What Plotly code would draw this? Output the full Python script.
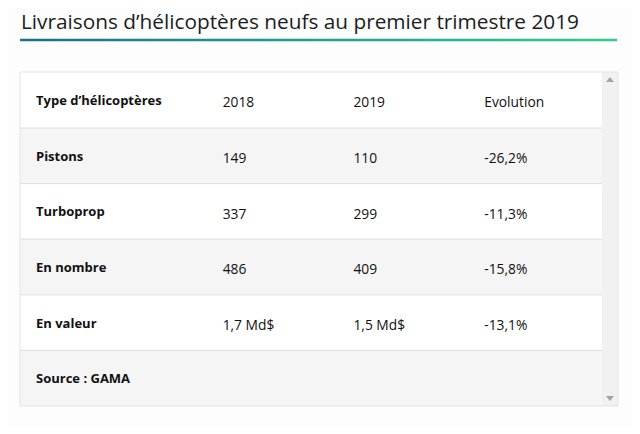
import plotly.graph_objects as go

# données du tableau
titre = "Livraisons d’hélicoptères neufs au premier trimestre 2019"
entetes = ["Type d’hélicoptères", "2018", "2019", "Evolution"]
types = ["Pistons", "Turboprop", "En nombre", "En valeur", "Source : GAMA"]
val_2018 = ["149", "337", "486", "1,7 Md$", ""]
val_2019 = ["110", "299", "409", "1,5 Md$", ""]
evolution = ["-26,2%", "-11,3%", "-15,8%", "-13,1%", ""]

# la page a une marge de 8px : la figure fait 624x418
OFF = 8
W, H = 640 - 2 * OFF, 434 - 2 * OFF
t_x0, t_x1 = 20, 602
t_y0, t_y1 = 72, 406
head_h = 56
row_h = (t_y1 - t_y0 - head_h) / len(types)
shift = 6  # décalage du texte (une ligne quasi vide en tête de cellule)
vide = "\u00a0<br>"
tailles = [13, 13, 13.8, 13.8, 13.8]


def px(x):
    return (x - OFF) / W


def py(y):
    return 1 - (y - OFF) / H


gris, blanc = "#f5f5f5", "#ffffff"

fig = go.Figure()

fig.add_trace(go.Table(
    domain=dict(x=[px(t_x0), px(t_x1)], y=[py(t_y1), py(t_y0 - shift)]),
    columnwidth=[8, 187, 131, 131, 125],
    header=dict(
        values=["", vide + "<b>" + entetes[0] + "</b>"] + [vide + e for e in entetes[1:]],
        fill_color="rgba(0,0,0,0)",
        line=dict(width=0),
        align="left",
        height=head_h,
        font=dict(family="Open Sans", size=tailles, color="#111"),
    ),
    cells=dict(
        values=[[""] * len(types),
                [vide + "<b>" + t + "</b>" for t in types],
                [vide + v for v in val_2018],
                [vide + v for v in val_2019],
                [vide + v for v in evolution]],
        fill_color="rgba(0,0,0,0)",
        line=dict(width=0),
        align="left",
        height=row_h,
        font=dict(family="Open Sans", size=tailles, color="#111"),
    ),
))

shapes = []
# fonds des lignes
shapes.append(dict(type="rect", xref="paper", yref="paper", x0=px(t_x0), x1=px(t_x1),
                   y0=py(t_y0 + head_h), y1=py(t_y0), fillcolor=blanc, line=dict(width=0), layer="below"))
for i in range(len(types)):
    y = t_y0 + head_h + i * row_h
    shapes.append(dict(type="rect", xref="paper", yref="paper", x0=px(t_x0), x1=px(t_x1),
                       y0=py(y + row_h), y1=py(y), fillcolor=gris if i % 2 == 0 else blanc,
                       line=dict(width=0), layer="below"))
    shapes.append(dict(type="line", xref="paper", yref="paper", x0=px(t_x0), x1=px(t_x1),
                       y0=py(y), y1=py(y), line=dict(color="#dedede", width=1), layer="below"))
# barre de défilement
shapes.append(dict(type="rect", xref="paper", yref="paper", x0=px(t_x1), x1=px(t_x1 + 16),
                   y0=py(t_y1), y1=py(t_y0), fillcolor="#f1f1f1", line=dict(width=0), layer="below"))
shapes.append(dict(type="path", xref="paper", yref="paper",
                   path=f"M {px(606)} {py(82)} L {px(614)} {py(82)} L {px(610)} {py(77)} Z",
                   fillcolor="#a3a3a3", line=dict(width=0), layer="below"))
shapes.append(dict(type="path", xref="paper", yref="paper",
                   path=f"M {px(606)} {py(396)} L {px(614)} {py(396)} L {px(610)} {py(401)} Z",
                   fillcolor="#a3a3a3", line=dict(width=0), layer="below"))
# bordure
shapes.append(dict(type="rect", xref="paper", yref="paper", x0=px(t_x0), x1=px(t_x1 + 16),
                   y0=py(t_y1), y1=py(t_y0), line=dict(color="#e3e3e3", width=1), layer="below"))

# soulignement en dégradé
n = 60
fig.add_trace(go.Heatmap(
    z=[list(range(n))], x=list(range(n)), y=[0],
    colorscale=[[0, "#1b6f8f"], [0.5, "#22a08a"], [1, "#2ecc8a"]],
    showscale=False, hoverinfo="skip", xaxis="x", yaxis="y",
))

fig.update_layout(
    width=W, height=H,
    margin=dict(l=0, r=0, t=0, b=0),
    paper_bgcolor="#fdfdfd",
    plot_bgcolor="#fdfdfd",
    shapes=shapes,
    xaxis=dict(domain=[px(20), px(617)], visible=False, fixedrange=True),
    yaxis=dict(domain=[py(41.5), py(38.5)], visible=False, fixedrange=True),
    annotations=[dict(text=titre, x=px(19), y=py(21), xref="paper", yref="paper",
                      xanchor="left", yanchor="middle", showarrow=False,
                      font=dict(family="Open Sans", size=20.8, color="#1a1d22"))],
)

fig.write_html("out.html")
